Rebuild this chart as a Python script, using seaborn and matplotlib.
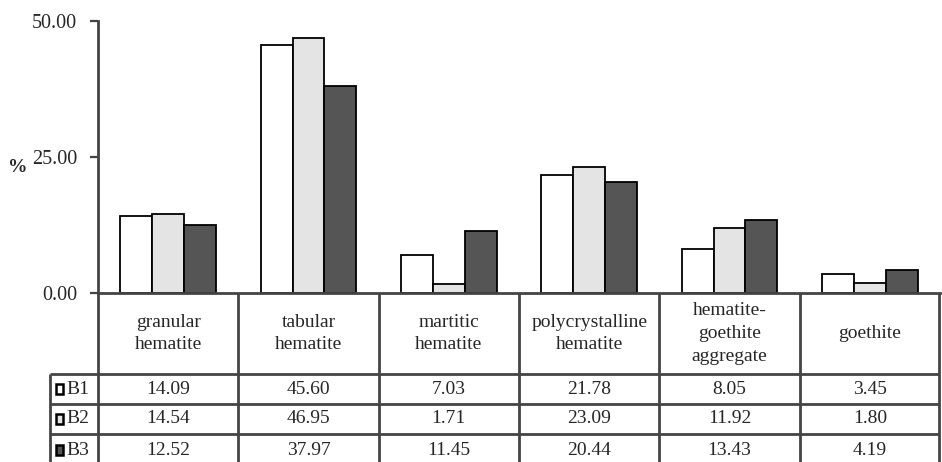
import numpy as np
import pandas as pd
import seaborn as sns
import matplotlib.pyplot as plt
from matplotlib.transforms import blended_transform_factory
from matplotlib.patches import Rectangle

categories = ["granular\nhematite", "tabular\nhematite", "martitic\nhematite",
              "polycrystalline\nhematite", "hematite-\ngoethite\naggregate", "goethite"]
samples = ["B1", "B2", "B3"]
b1 = [14.09, 45.60, 7.03, 21.78, 8.05, 3.45]
b2 = [14.54, 46.95, 1.71, 23.09, 11.92, 1.80]
b3 = [12.52, 37.97, 11.45, 20.44, 13.43, 4.19]
colors = ["#ffffff", "#e4e4e4", "#555555"]

df = pd.DataFrame({
    "cat": categories * 3,
    "sample": ["B1"] * 6 + ["B2"] * 6 + ["B3"] * 6,
    "val": b1 + b2 + b3,
})

sns.set_style("white")
plt.rcParams["font.family"] = ["Liberation Serif", "DejaVu Serif"]
fs = 14

fig = plt.figure(figsize=(9.42, 4.62), dpi=100)
ax = fig.add_axes([98 / 942, 1 - 293 / 462, (940 - 98) / 942, 272 / 462])

sns.barplot(data=df, x="cat", y="val", hue="sample", palette=colors,
            width=0.68, edgecolor="black", linewidth=1.3, ax=ax, legend=False)

ax.set_xlim(-0.5, 5.5)
ax.set_ylim(0, 50)
ax.set_yticks([0, 25, 50])
ax.set_yticklabels(["%.2f" % v for v in [0, 25, 50]], fontsize=14.5)
ax.set_xticks([])
ax.set_xlabel("")
ax.set_ylabel("%", rotation=0, fontsize=fs, fontweight="bold", labelpad=0)
ax.yaxis.set_label_coords(-0.095, 0.43)
ax.tick_params(axis="y", left=True, length=6, width=1.6, color="#444444", pad=9)
for s in ["top", "right"]:
    ax.spines[s].set_visible(False)
for s in ["left", "bottom"]:
    ax.spines[s].set_color("#444444")
    ax.spines[s].set_linewidth(2)

# data table under the bars
tr = blended_transform_factory(ax.transData, ax.transAxes)
lc = "#444444"
lw = 2
rows_y = [0, -0.298, -0.408, -0.518, -0.64]
left_x = -0.5 - 48 / 140.3
right_x = 5.5 - 1 / 140.3

def line(xs, ys):
    ax.plot(xs, ys, color=lc, lw=lw, transform=tr, clip_on=False, solid_capstyle="butt")

for i in range(7):
    x = -0.5 + i if i < 6 else right_x
    line([x, x], [rows_y[0], rows_y[-1]])
line([left_x, left_x], [rows_y[1], rows_y[-1]])
for y in rows_y[1:4]:
    line([left_x, right_x], [y, y])

for i, c in enumerate(categories):
    ax.text(i, (rows_y[0] + rows_y[1]) / 2, c, ha="center", va="center",
            fontsize=fs, transform=tr, clip_on=False, linespacing=1.45)

vals = [b1, b2, b3]
for r in range(3):
    ymid = (rows_y[r + 1] + rows_y[r + 2]) / 2
    ax.add_patch(Rectangle((left_x + 0.04, ymid - 0.017), 0.055, 0.036,
                           facecolor=colors[r], edgecolor="black", lw=1.8,
                           transform=tr, clip_on=False))
    ax.text(left_x + 0.115, ymid, samples[r], ha="left", va="center",
            fontsize=fs, transform=tr, clip_on=False)
    for i in range(6):
        ax.text(i, ymid, "%.2f" % vals[r][i], ha="center", va="center",
                fontsize=fs, transform=tr, clip_on=False)

fig.savefig("out.png", dpi=100)
